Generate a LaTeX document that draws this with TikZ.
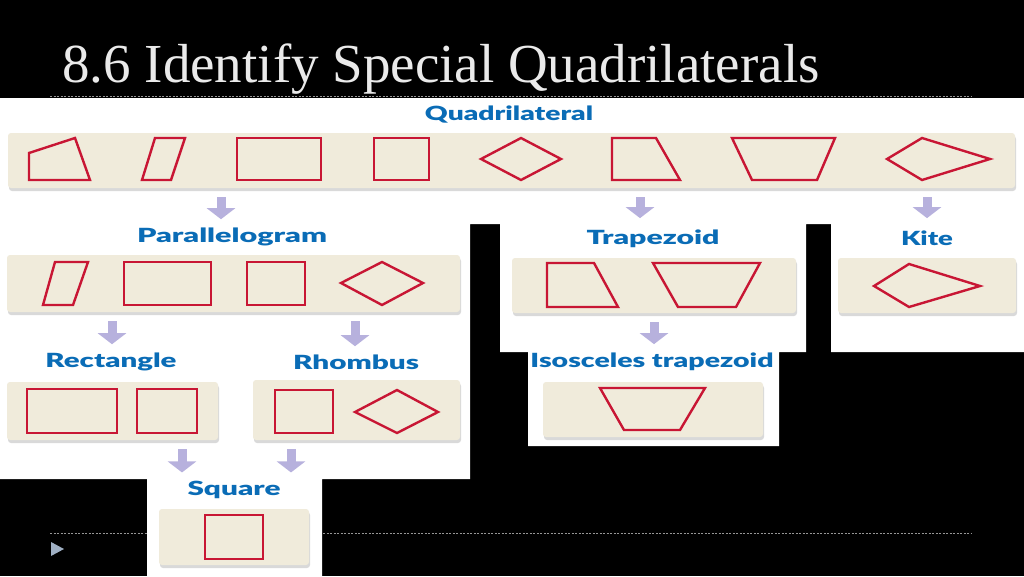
\documentclass[tikz,border=0pt]{standalone}
\usepackage{fontspec}
\setmainfont{Liberation Serif}
\newfontfamily\lblfont{Lato}[BoldFont={Lato Black}]
\usetikzlibrary{arrows.meta,fit,shadows}

\definecolor{lblblue}{RGB}{10,108,182}
\definecolor{quadred}{RGB}{200,22,52}
\definecolor{panelbg}{RGB}{240,235,219}
\definecolor{arrowlav}{RGB}{183,177,221}
\definecolor{titlegray}{RGB}{234,234,234}
\definecolor{dashgray}{RGB}{150,150,150}
\definecolor{bulletc}{RGB}{160,176,196}

% stretch a label to the width it has in the chart
\newcommand{\widelbl}[2]{\resizebox{#1pt}{\height}{#2}}

\tikzset{
  panel/.style={fill=panelbg, rounded corners=3pt, inner sep=0pt,
    drop shadow={shadow xshift=1pt, shadow yshift=-3pt, opacity=.15, fill=black}},
  quad/.style={draw=quadred, line width=2.4pt, line join=miter},
  lbl/.style={font=\lblfont\bfseries\fontsize{19.5}{19.5}\selectfont, text=lblblue,
    inner sep=0pt, anchor=base},
  bigarrow/.style={draw=arrowlav, line width=9pt, -{Triangle[width=28pt,length=11pt]},
    shorten <=9pt, shorten >=8pt},
  rule/.style={dashgray, line width=1pt, dash pattern=on 2pt off 1.5pt},
}

\begin{document}
\begin{tikzpicture}[x=1pt, y=-1pt]
  \useasboundingbox (0,0) rectangle (1024,576);
  \fill[black] (0,0) rectangle (1024,576);
  \draw[rule] (50,533) -- (972,533);
  \fill[bulletc] (51,542) -- (64,549) -- (51,556) -- cycle;

  % white sheet behind the chart
  \fill[white] (0,98) -- (1024,98) -- (1024,352) -- (831,352) -- (831,224)
    -- (806,224) -- (806,352) -- (779,352) -- (779,446) -- (528,446)
    -- (528,352) -- (500,352) -- (500,224) -- (470,224) -- (470,479)
    -- (322,479) -- (322,576) -- (147,576) -- (147,479) -- (0,479) -- cycle;
  \draw[rule] (50,96) -- (972,96);
  \node[anchor=base west, inner sep=0pt, text=titlegray,
    font=\fontsize{55}{55}\selectfont] (title) at (62,82)
    {8.6 Identify Special Quadrilaterals};

  % panels
  \node[panel, fit={(8,133) (1015,188)}] (pQuad) {};
  \node[panel, fit={(7,255) (460,312)}] (pPar) {};
  \node[panel, fit={(512,258) (796,313)}] (pTrap) {};
  \node[panel, fit={(838,258) (1016,313)}] (pKite) {};
  \node[panel, fit={(7,382) (218,440)}] (pRect) {};
  \node[panel, fit={(253,380) (460,440)}] (pRhom) {};
  \node[panel, fit={(543,382) (763,437)}] (pIso) {};
  \node[panel, fit={(159,509) (309,565)}] (pSq) {};

  % quadrilateral row
  \draw[quad] (29,153) -- (75,138) -- (90,180) -- (29,180) -- cycle;
  \draw[quad] (142,180) -- (155,138) -- (185,138) -- (171,180) -- cycle;
  \draw[quad] (237,138) rectangle (321,180);
  \draw[quad] (374,138) rectangle (429,180);
  \draw[quad] (481,159) -- (521,138) -- (561,159) -- (521,180) -- cycle;
  \draw[quad] (612,138) -- (656,138) -- (680,180) -- (612,180) -- cycle;
  \draw[quad] (732,138) -- (835,138) -- (817,180) -- (752,180) -- cycle;
  \draw[quad] (887,159) -- (922,138) -- (990,159) -- (922,180) -- cycle;

  % parallelograms
  \draw[quad] (43,305) -- (55,262) -- (88,262) -- (73,305) -- cycle;
  \draw[quad] (124,262) rectangle (211,305);
  \draw[quad] (247,262) rectangle (305,305);
  \draw[quad] (341,283) -- (382,262) -- (423,283) -- (382,305) -- cycle;

  % trapezoids and kite
  \draw[quad] (547,263) -- (594,263) -- (618,307) -- (547,307) -- cycle;
  \draw[quad] (653,263) -- (760,263) -- (736,307) -- (678,307) -- cycle;
  \draw[quad] (874,286) -- (909,264) -- (980,286) -- (909,307) -- cycle;
  \draw[quad] (600,388) -- (705,388) -- (680,430) -- (624,430) -- cycle;

  % rectangles, rhombi, square
  \draw[quad] (27,389) rectangle (117,433);
  \draw[quad] (137,389) rectangle (197,433);
  \draw[quad] (275,390) rectangle (333,433);
  \draw[quad] (355,412) -- (397,390) -- (438,412) -- (397,433) -- cycle;
  \draw[quad] (205,515) rectangle (263,559);

  % labels
  \node[lbl] (lQuad) at (509,120) {\widelbl{168}{Quadrilateral}};
  \node[lbl] (lPar) at (232,242) {\widelbl{190}{Parallelogram}};
  \node[lbl] (lTrap) at (653,244) {\widelbl{133}{Trapezoid}};
  \node[lbl] (lKite) at (927,245) {\widelbl{52}{Kite}};
  \node[lbl] (lRect) at (111,367) {\widelbl{131}{Rectangle}};
  \node[lbl] (lRhom) at (356,369) {\widelbl{126}{Rhombus}};
  \node[lbl] (lIso) at (652,367) {\widelbl{243}{Isosceles trapezoid}};
  \node[lbl] (lSq) at (234,495) {\widelbl{93}{Square}};

  % arrows
  \draw[bigarrow] (221,0 |- pQuad.south) -- (221,0 |- lPar.north);
  \draw[bigarrow, shorten >=11pt] (640,0 |- pQuad.south) -- (640,0 |- lTrap.north);
  \draw[bigarrow, shorten >=12pt] (927,0 |- pQuad.south) -- (927,0 |- lKite.north);
  \draw[bigarrow] (112,0 |- pPar.south) -- (112,0 |- lRect.north);
  \draw[bigarrow] (355,0 |- pPar.south) -- (355,0 |- lRhom.north);
  \draw[bigarrow] (654,0 |- pTrap.south) -- (654,0 |- lIso.north);
  \draw[bigarrow] (182,0 |- pRect.south) -- (182,0 |- lSq.north);
  \draw[bigarrow] (291,0 |- pRhom.south) -- (291,0 |- lSq.north);
\end{tikzpicture}
\end{document}
